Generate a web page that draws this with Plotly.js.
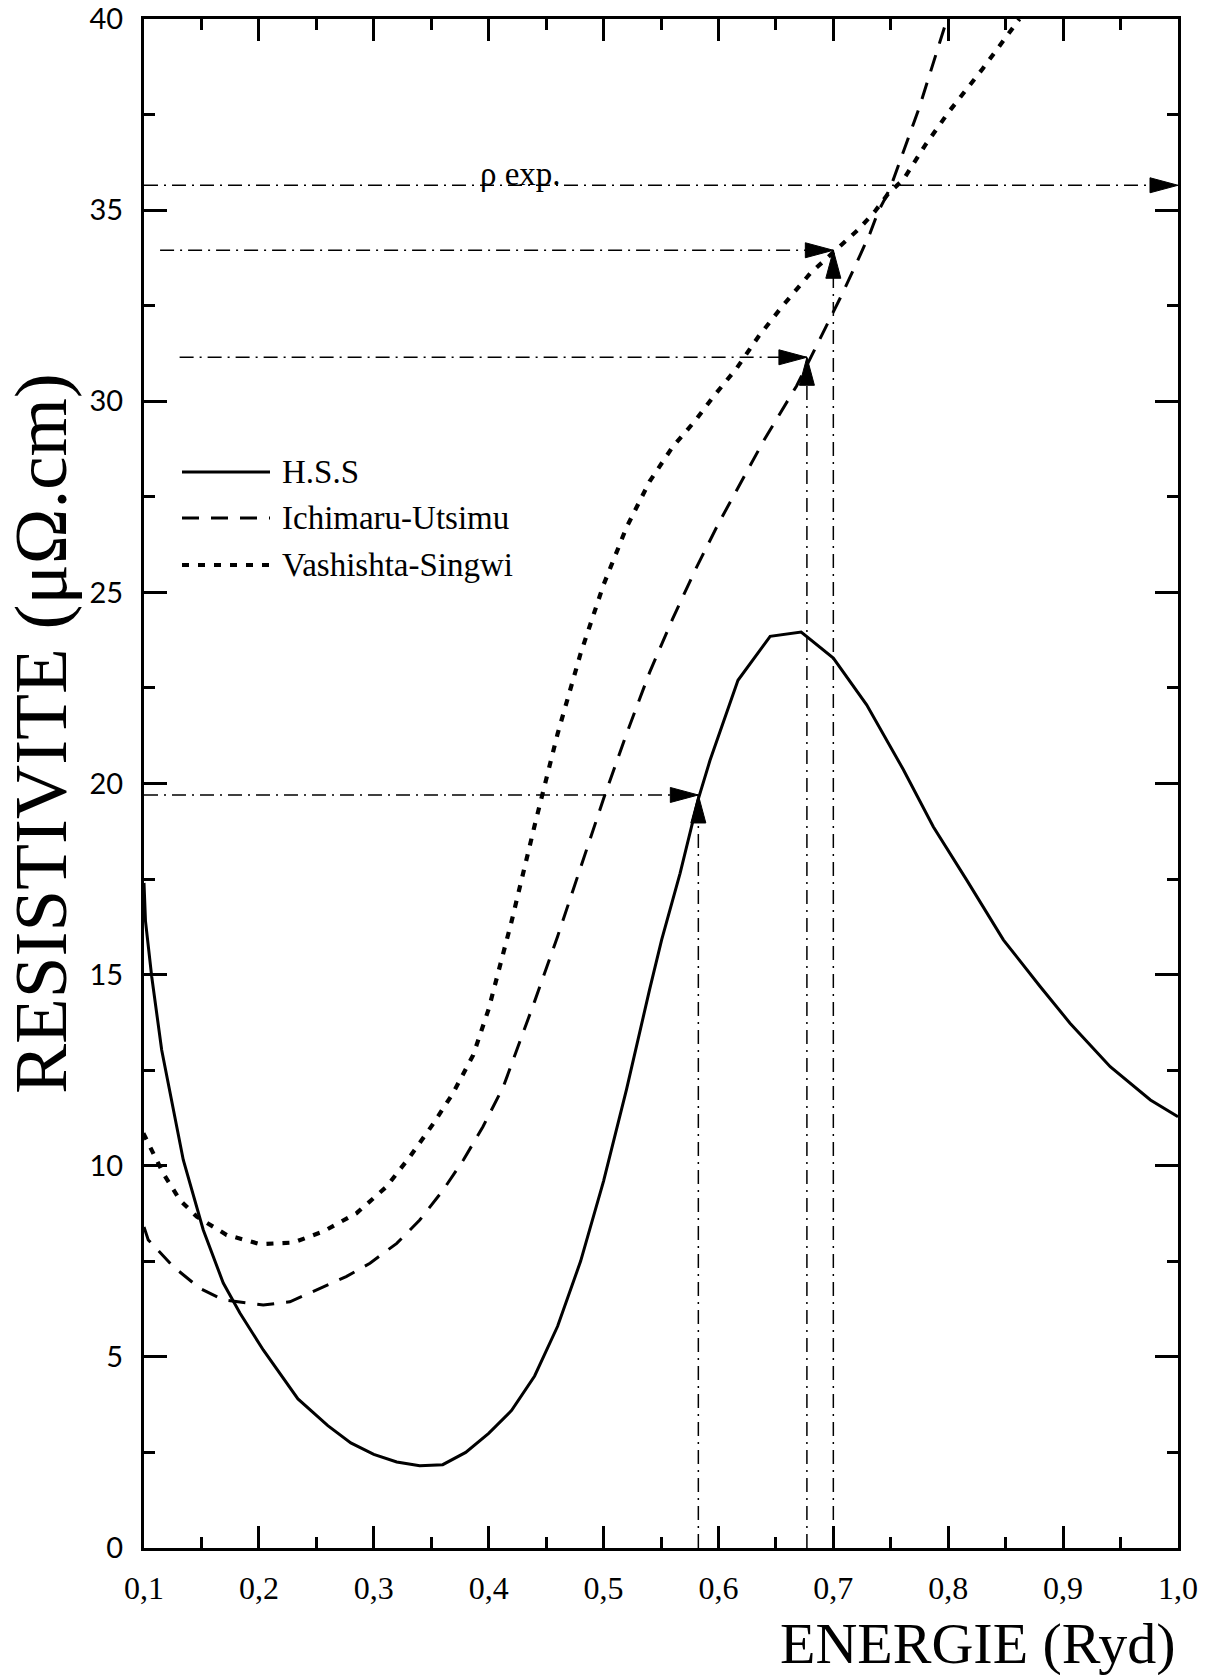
<!DOCTYPE html>
<html>
<head>
<meta charset="utf-8">
<script src="https://cdn.plot.ly/plotly-3.0.1.min.js"></script>
<style>
  html, body { margin: 0; padding: 0; background: #fff; }
  #chart { width: 1212px; height: 1675px; }
</style>
</head>
<body>
<div id="chart"></div>
<script>
// ---- Data ----
const seriesNames = ['H.S.S', 'Ichimaru-Utsimu', 'Vashishta-Singwi'];

const energyHSS = [0.100, 0.1013, 0.1067, 0.1154, 0.1342, 0.1516, 0.169, 0.1836, 0.2038, 0.234, 0.26, 0.28, 0.30, 0.32, 0.34, 0.36, 0.38, 0.40, 0.42, 0.44, 0.46, 0.48, 0.50, 0.52, 0.54, 0.5505, 0.5666, 0.5825, 0.5926, 0.617, 0.645, 0.672, 0.700, 0.729, 0.761, 0.787, 0.816, 0.848, 0.880, 0.906, 0.941, 0.976, 1.000];
const rhoHSS    = [17.4, 16.4, 14.95, 13.03, 10.15, 8.32, 6.93, 6.14, 5.18, 3.9, 3.2, 2.75, 2.45, 2.25, 2.15, 2.18, 2.5, 3.0, 3.6, 4.5, 5.8, 7.5, 9.6, 12.0, 14.6, 15.9, 17.65, 19.6, 20.6, 22.7, 23.85, 23.96, 23.28, 22.06, 20.36, 18.87, 17.48, 15.91, 14.69, 13.73, 12.59, 11.72, 11.28];

const energyIU = [0.100, 0.1037, 0.1255, 0.1487, 0.169, 0.2038, 0.227, 0.253, 0.276, 0.2967, 0.320, 0.340, 0.3605, 0.378, 0.395, 0.4128, 0.4214, 0.44, 0.46, 0.48, 0.50, 0.52, 0.54, 0.56, 0.58, 0.60, 0.62, 0.64, 0.668, 0.683, 0.706, 0.720, 0.732, 0.739, 0.746, 0.751, 0.775, 0.799];
const rhoIU    = [8.4, 8.06, 7.36, 6.79, 6.49, 6.36, 6.44, 6.79, 7.10, 7.45, 7.97, 8.58, 9.37, 10.15, 11.02, 12.07, 12.77, 14.3, 16.0, 17.8, 19.6, 21.3, 22.9, 24.3, 25.6, 26.8, 27.9, 29.0, 30.4, 31.3, 32.7, 33.6, 34.4, 34.96, 35.36, 35.7, 37.7, 40.0];

const energyVS = [0.0994, 0.1168, 0.1313, 0.1459, 0.172, 0.201, 0.230, 0.256, 0.285, 0.311, 0.3315, 0.352, 0.369, 0.3866, 0.40, 0.42, 0.44, 0.46, 0.48, 0.50, 0.52, 0.54, 0.56, 0.58, 0.595, 0.616, 0.635, 0.656, 0.680, 0.700, 0.722, 0.736, 0.748, 0.761, 0.780, 0.800, 0.830, 0.862];
const rhoVS    = [10.85, 9.80, 9.1, 8.67, 8.19, 7.95, 7.99, 8.28, 8.76, 9.45, 10.24, 11.11, 11.9, 12.9, 14.1, 16.4, 18.9, 21.3, 23.4, 25.2, 26.7, 27.9, 28.8, 29.5, 30.1, 30.87, 31.7, 32.5, 33.35, 33.9, 34.5, 34.96, 35.44, 35.8, 36.7, 37.55, 38.7, 40.0];

// Reference (dash-dot) construction lines
const refLevels  = [35.65, 33.95, 31.15, 19.7];   // horizontal levels
const refStartE  = [0.100, 0.114, 0.131, 0.100];
const refEndE    = [1.000, 0.700, 0.677, 0.5825];
const vertE      = [0.5825, 0.677, 0.700];          // vertical lines
const vertTop    = [19.7, 31.15, 33.95];
const rhoExpLabel = 'ρ exp.';
const rhoExpLabelE = 0.428;

const xTitle = 'ENERGIE (Ryd)';
const yTitle = 'RESISTIVITE (μΩ.cm)';

// ---- Styles ----
const serif = 'Liberation Serif, Times New Roman, serif';
const refDash = '14px,6px,2px,6px';
const styles = [
  {width: 3, dash: 'solid'},
  {width: 3, dash: '17px,12px'},
  {width: 4.2, dash: '7px,9px'}
];

const traces = [];
const xs = [energyHSS, energyIU, energyVS];
const ys = [rhoHSS, rhoIU, rhoVS];
for (let i = 0; i < 3; i++) {
  traces.push({
    x: xs[i], y: ys[i], name: seriesNames[i], type: 'scatter', mode: 'lines',
    line: {color: 'black', width: styles[i].width, dash: styles[i].dash, shape: 'linear'},
    hoverinfo: 'skip'
  });
}
for (let i = 0; i < refLevels.length; i++) {
  traces.push({
    x: [refStartE[i], refEndE[i]], y: [refLevels[i], refLevels[i]], type: 'scatter', mode: 'lines',
    line: {color: 'black', width: 1.5, dash: refDash}, hoverinfo: 'skip', showlegend: false
  });
}
for (let i = 0; i < vertE.length; i++) {
  traces.push({
    x: [vertE[i], vertE[i]], y: [0, vertTop[i]], type: 'scatter', mode: 'lines',
    line: {color: 'black', width: 1.5, dash: refDash}, hoverinfo: 'skip', showlegend: false
  });
}

const shapes = [];
// arrowheads (pixel-sized, anchored at data tips)
for (let i = 0; i < refLevels.length; i++) {
  shapes.push({type: 'path', xref: 'x', yref: 'y', xsizemode: 'pixel', ysizemode: 'pixel',
    xanchor: refEndE[i], yanchor: refLevels[i], path: 'M0,0L-28,7.5L-28,-7.5Z',
    fillcolor: 'black', line: {color: 'black', width: 1}});
}
for (let i = 0; i < vertE.length; i++) {
  shapes.push({type: 'path', xref: 'x', yref: 'y', xsizemode: 'pixel', ysizemode: 'pixel',
    xanchor: vertE[i], yanchor: vertTop[i], path: 'M0,0L-7.5,-28L7.5,-28Z',
    fillcolor: 'black', line: {color: 'black', width: 1}});
}
// manual legend
const legendX0 = (182 - 144) / 1034, legendX1 = (270 - 144) / 1034;
const legendRows = [472, 518, 565].map(p => (1548 - p) / 1529);
for (let i = 0; i < 3; i++) {
  shapes.push({type: 'line', xref: 'paper', yref: 'paper', x0: legendX0, x1: legendX1,
    y0: legendRows[i], y1: legendRows[i],
    line: {color: 'black', width: styles[i].width, dash: styles[i].dash}});
}

const annotations = [];
for (let i = 0; i < 3; i++) {
  annotations.push({xref: 'paper', yref: 'paper', x: (280 - 144) / 1034, y: legendRows[i],
    xanchor: 'left', yanchor: 'middle', text: seriesNames[i], showarrow: false,
    font: {family: serif, size: 33, color: 'black'}});
}
annotations.push({xref: 'x', yref: 'y', x: rhoExpLabelE, y: refLevels[0], xanchor: 'center', yanchor: 'bottom',
  yshift: -9, text: rhoExpLabel, showarrow: false, font: {family: serif, size: 33, color: 'black'}});
annotations.push({xref: 'paper', yref: 'paper', x: 1.0, y: 0, xanchor: 'right', yanchor: 'top', yshift: -61,
  text: xTitle, showarrow: false, font: {family: serif, size: 58, color: 'black'}});
annotations.push({xref: 'paper', yref: 'paper', x: (40 - 144) / 1034, y: (1548 - 734) / 1529,
  xanchor: 'center', yanchor: 'middle', textangle: -90,
  text: yTitle, showarrow: false, font: {family: serif, size: 75, color: 'black'}});

const layout = {
  width: 1212, height: 1675,
  margin: {l: 144, r: 34, t: 19, b: 127},
  paper_bgcolor: 'white', plot_bgcolor: 'white',
  showlegend: false,
  separators: ', ',
  xaxis: {
    range: [0.1, 1.0], tick0: 0.1, dtick: 0.1, tickformat: '.1f',
    ticks: 'inside', ticklen: 22, tickwidth: 3, tickcolor: 'black',
    showline: true, linewidth: 3, linecolor: 'black', mirror: 'ticks',
    showgrid: false, zeroline: false,
    minor: {tick0: 0.1, dtick: 0.05, ticks: 'inside', ticklen: 11, tickwidth: 3, tickcolor: 'black', showgrid: false},
    tickfont: {family: serif, size: 32, color: 'black'},
    ticklabelstandoff: 10
  },
  yaxis: {
    range: [0, 40], tick0: 0, dtick: 5,
    ticks: 'inside', ticklen: 23, tickwidth: 3, tickcolor: 'black',
    showline: true, linewidth: 3, linecolor: 'black', mirror: 'ticks',
    showgrid: false, zeroline: false,
    minor: {tick0: 0, dtick: 2.5, ticks: 'inside', ticklen: 11, tickwidth: 3, tickcolor: 'black', showgrid: false},
    tickfont: {family: 'Lato, Open Sans, sans-serif', size: 29, color: 'black'},
    ticklabelstandoff: 12
  },
  shapes: shapes,
  annotations: annotations
};

Plotly.newPlot('chart', traces, layout, {displayModeBar: false, staticPlot: true});
</script>
</body>
</html>
